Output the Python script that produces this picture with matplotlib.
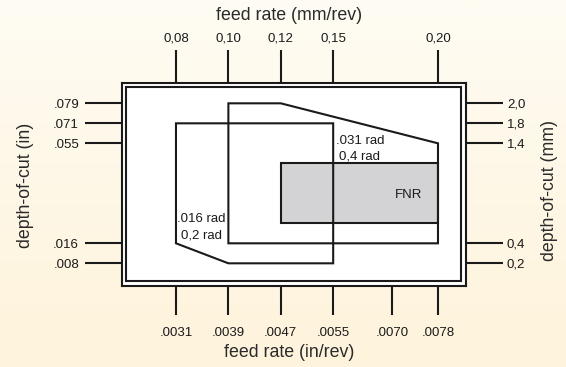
import numpy as np
import matplotlib
matplotlib.use("Agg")
import matplotlib.pyplot as plt
from matplotlib.patches import Polygon, Rectangle

plt.rcParams['font.family'] = ['Liberation Sans', 'DejaVu Sans']

# feed rate ticks (mm/rev on top, in/rev underneath at their mm equivalents)
feed_mm = [0.08, 0.10, 0.12, 0.15, 0.20]
feed_mm_labels = ['0,08', '0,10', '0,12', '0,15', '0,20']
feed_in_at_mm = [0.08, 0.10, 0.12, 0.15, 0.178, 0.20]
feed_in_labels = ['.0031', '.0039', '.0047', '.0055', '.0070', '.0078']

# depth-of-cut ticks (mm on the right, inches on the left)
depth_mm = [0.2, 0.4, 1.4, 1.8, 2.0]
depth_mm_labels = ['0,2', '0,4', '1,4', '1,8', '2,0']
depth_in_labels = ['.008', '.016', '.055', '.071', '.079']

# insert application windows
small_feed = [0.08, 0.15, 0.15, 0.10, 0.08]
small_depth = [1.8, 1.8, 0.2, 0.2, 0.4]
large_feed = [0.10, 0.12, 0.20, 0.20, 0.10]
large_depth = [2.0, 2.0, 1.4, 0.4, 0.4]
fnr_feed = [0.12, 0.20]
fnr_depth = [0.6, 1.2]

# schematic spacing of the tick positions along each axis
feed_slots = [0, 1, 2, 3, 5]
depth_slots = [0, 1, 6, 7, 8]


def piecewise(vals, slots):
    vals = np.asarray(vals, float)
    slots = np.asarray(slots, float)
    lo = (slots[1] - slots[0]) / (vals[1] - vals[0])
    hi = (slots[-1] - slots[-2]) / (vals[-1] - vals[-2])

    def fwd(v):
        v = np.asarray(v, float)
        out = np.interp(v, vals, slots)
        out = np.where(v < vals[0], slots[0] + (v - vals[0]) * lo, out)
        return np.where(v > vals[-1], slots[-1] + (v - vals[-1]) * hi, out)

    def inv(s):
        s = np.asarray(s, float)
        out = np.interp(s, slots, vals)
        out = np.where(s < slots[0], vals[0] + (s - slots[0]) / lo, out)
        return np.where(s > slots[-1], vals[-1] + (s - slots[-1]) / hi, out)

    return fwd, inv


x_fwd, x_inv = piecewise(feed_mm, feed_slots)
y_fwd, y_inv = piecewise(depth_mm, depth_slots)
xlim = (float(x_inv(-1.036)), float(x_inv(5.529)))
ylim = (float(y_inv(-1.12)), float(y_inv(9.03)))

fig = plt.figure(figsize=(5.66, 3.67), dpi=100)

# soft cream background, lighter at the top
bg = fig.add_axes([0, 0, 1, 1], zorder=-10)
top_c = np.array([255, 252, 243]) / 255
bot_c = np.array([254, 243, 219]) / 255
t = np.linspace(0, 1, 256)[:, None]
grad = top_c[None, :] * (1 - t) + bot_c[None, :] * t
bg.imshow(grad[:, None, :], aspect='auto', extent=(0, 1, 0, 1))
bg.axis('off')

ax = fig.add_axes([0.2150, 0.2215, 0.6078, 0.5531])
ax.set_facecolor('white')
ax.set_xscale('function', functions=(x_fwd, x_inv))
ax.set_yscale('function', functions=(y_fwd, y_inv))
ax.set_xlim(xlim)
ax.set_ylim(ylim)

ink = '#1a1a1a'
lw = 1.5
for s in ax.spines.values():
    s.set_linewidth(lw)
    s.set_color(ink)

# inner line of the double frame
dx, dy = 4.5 / 344, 4.5 / 203
ax.add_patch(Rectangle((dx, dy), 1 - 2 * dx, 1 - 2 * dy, transform=ax.transAxes,
                       fill=False, ec=ink, lw=lw))

ax.add_patch(Rectangle((fnr_feed[0], fnr_depth[0]), fnr_feed[1] - fnr_feed[0],
                       fnr_depth[1] - fnr_depth[0], fc='#d3d3d5', ec=ink, lw=lw, zorder=2))
ax.add_patch(Polygon(np.column_stack([small_feed, small_depth]), closed=True,
                     fill=False, ec=ink, lw=lw, zorder=3))
ax.add_patch(Polygon(np.column_stack([large_feed, large_depth]), closed=True,
                     fill=False, ec=ink, lw=lw, zorder=3))

txt = dict(fontsize=9.5, color=ink, ha='center', va='center', zorder=4)
ax.text(0.0898, 0.64, '.016 rad', **txt)
ax.text(0.0898, 0.48, '0,2 rad', **txt)
ax.text(0.1627, 1.45, '.031 rad', **txt)
ax.text(0.1627, 1.27, '0,4 rad', **txt)
ax.text(0.186, 0.88, 'FNR', **txt)

# bottom / left: inch scales
ax.set_xticks(feed_in_at_mm, feed_in_labels)
ax.set_yticks(depth_mm, depth_in_labels)
ax.minorticks_off()
ax.tick_params(axis='x', direction='out', length=21, width=lw, pad=8.5,
               labelsize=9.5, colors=ink)
ax.tick_params(axis='y', direction='out', length=26.4, width=lw, pad=4.3,
               labelsize=9.5, colors=ink)

# top: mm feed scale
ax_top = ax.twiny()
ax_top.set_xscale('function', functions=(x_fwd, x_inv))
ax_top.set_xlim(xlim)
ax_top.set_xticks(feed_mm, feed_mm_labels)
ax_top.minorticks_off()
ax_top.tick_params(axis='x', direction='out', length=23.5, width=lw, pad=4,
                   labelsize=9.5, colors=ink)

# right: mm depth scale
ax_r = ax.twinx()
ax_r.set_yscale('function', functions=(y_fwd, y_inv))
ax_r.set_ylim(ylim)
ax_r.set_yticks(depth_mm, depth_mm_labels)
ax_r.minorticks_off()
ax_r.tick_params(axis='y', direction='out', length=26.6, width=lw, pad=3,
                 labelsize=9.5, colors=ink)

for a in (ax_top, ax_r):
    for s in a.spines.values():
        s.set_visible(False)

title_kw = dict(fontsize=12.8, color='#2a2a2a', va='center')
ax.set_xlabel('feed rate (in/rev)', **title_kw)
ax.xaxis.set_label_coords(0.486, -0.330)
ax_top.set_xlabel('feed rate (mm/rev)', **title_kw)
ax_top.xaxis.set_label_coords(0.486, 1.333)
ax.set_ylabel('depth-of-cut (in)', **title_kw)
ax.yaxis.set_label_coords(-0.281, 0.496)
ax_r.set_ylabel('depth-of-cut (mm)', **title_kw)
ax_r.yaxis.set_label_coords(1.245, 0.471)

fig.savefig('out.png', dpi=100)
